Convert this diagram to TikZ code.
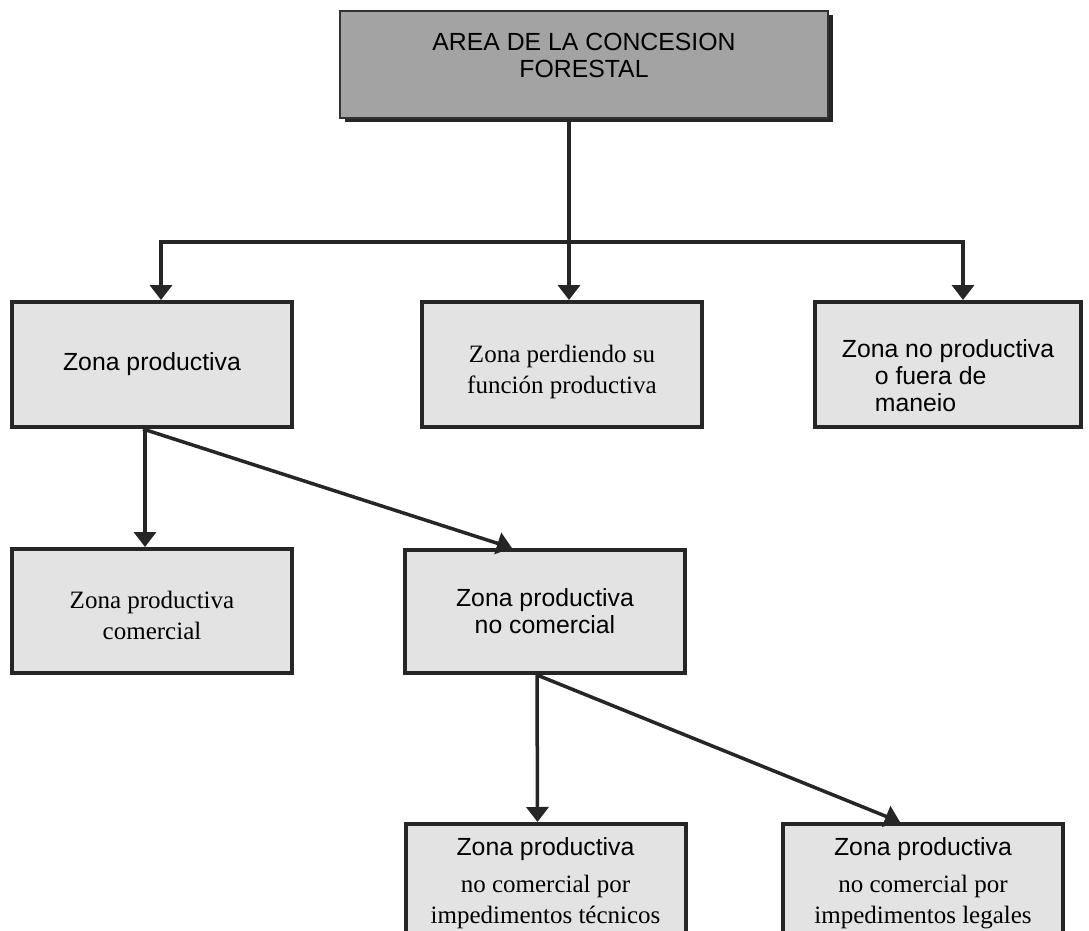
\documentclass[tikz,border=0pt]{standalone}
\usepackage{fontspec}
\setmainfont{Liberation Serif}
\setsansfont{Liberation Sans}
\usetikzlibrary{arrows.meta,shadows}

\newcommand{\zsans}{\sffamily\fontsize{24.8}{27}\selectfont}
\newcommand{\zserif}{\rmfamily\fontsize{25}{31}\selectfont}

\tikzset{
  zona/.style={draw=black!85, line width=4pt, fill=black!11, minimum width=280pt,
    minimum height=125pt, align=center, inner sep=0pt, font=\zsans},
  raiz/.style={draw=black!80, line width=1.5pt, fill=black!36, minimum width=488pt,
    minimum height=107pt, align=center, inner sep=0pt, font=\zsans,
    drop shadow={shadow xshift=5pt, shadow yshift=-4pt, fill=black!85, opacity=1}},
  enlace/.style={line width=3.5pt, draw=black!85},
  flecha/.style={enlace, -{Triangle[width=22pt,length=15pt]}}
}

\begin{document}
\begin{tikzpicture}[x=1pt, y=-1pt]
  \useasboundingbox (0,0) rectangle (1089,931);
  \clip (0,0) rectangle (1089,931);

  % raiz
  \node[raiz] (area) at (584,64.5)
    {AREA DE LA CONCESION\\FORESTAL\\[-8pt]\mbox{}};

  % primer nivel
  \node[zona] (prod) at (152,364.5) {Zona productiva};
  \node[zona, font=\zserif] (perd) at (562,364.5)
    {\mbox{}\\[2pt]Zona perdiendo su\\función productiva};
  \node[zona, minimum width=266pt, align=left] (noprod) at (948,364.5)
    {\mbox{}\\[14pt]Zona no productiva\\\hspace*{33pt}o fuera de\\\hspace*{33pt}maneio};

  % segundo nivel
  \node[zona, font=\zserif, minimum height=124pt] (com) at (152,611)
    {\mbox{}\\[-4pt]Zona productiva\\comercial};
  \node[zona, minimum height=123pt] (nocom) at (545,611.5) {Zona productiva\\no comercial};

  % tercer nivel
  \node[zona, font=\zserif, minimum height=118pt, anchor=north] (tec) at (545.5,822)
    {{\zsans Zona productiva}\\[6pt]no comercial por\\impedimentos técnicos};
  \node[zona, font=\zserif, minimum height=118pt, anchor=north] (leg) at (923,822)
    {{\zsans Zona productiva}\\[6pt]no comercial por\\impedimentos legales};

  % conectores
  \coordinate (hub) at (569,242);
  \draw[enlace] (area.south -| hub) -- (hub);
  \draw[flecha] (hub) -| ([xshift=9pt]prod.north);
  \draw[flecha] (hub) -- (perd.north -| hub);
  \draw[flecha] (hub) -| ([xshift=15pt]noprod.north);

  \draw[flecha] ([xshift=-7pt]prod.south) -- ([xshift=-7pt]com.north);
  \draw[flecha] ([xshift=-9pt]prod.south) -- ([xshift=-33pt]nocom.north);

  \draw[flecha] ([xshift=-8pt]nocom.south) -- ([xshift=-8pt]tec.north);
  \draw[flecha] ([xshift=-8pt]nocom.south) -- ([xshift=-23pt]leg.north);
\end{tikzpicture}
\end{document}
